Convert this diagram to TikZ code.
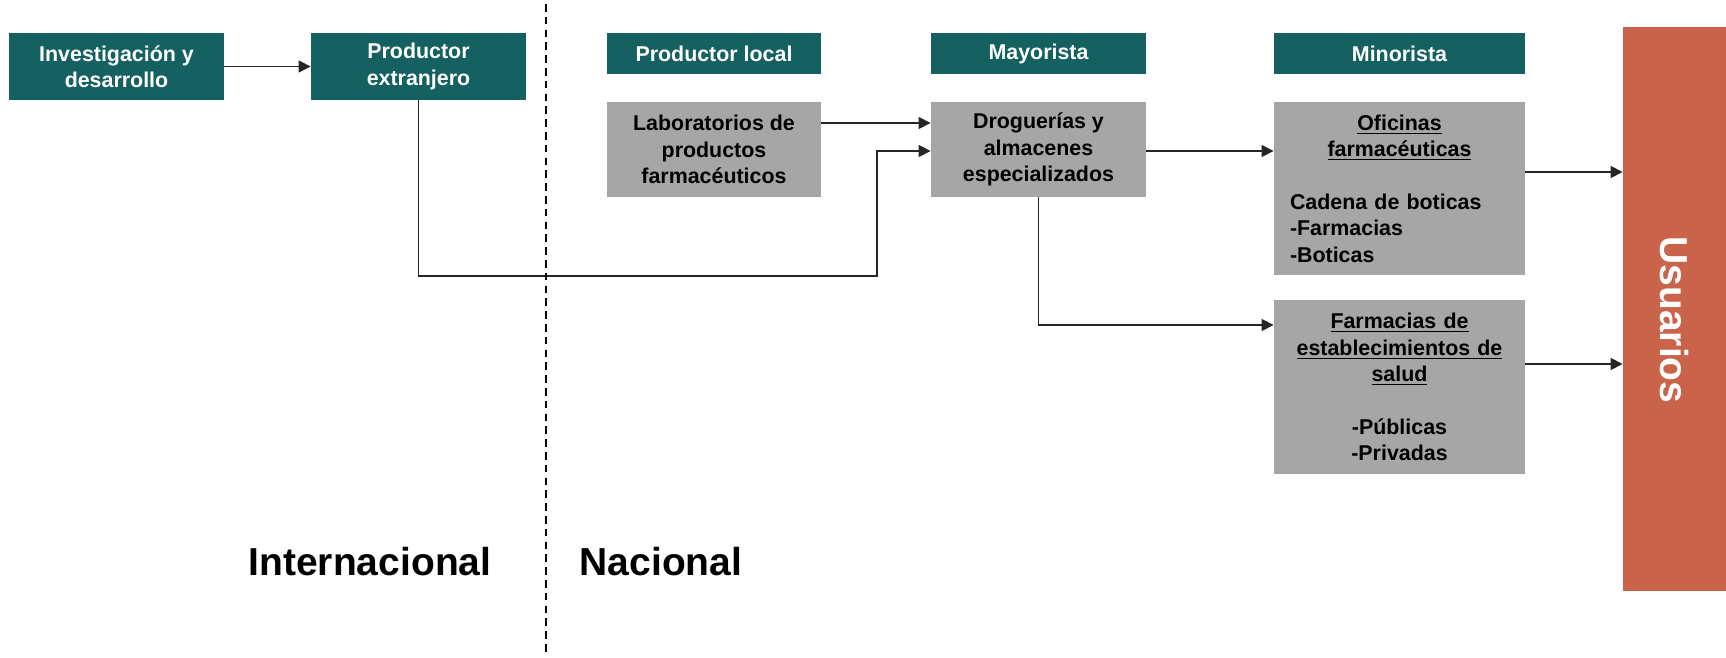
\documentclass[tikz,border=0pt]{standalone}
\usepackage{fontspec}
\setmainfont{Liberation Sans}
\usetikzlibrary{arrows.meta}
\definecolor{verde}{RGB}{21,96,96}
\definecolor{gris}{RGB}{166,166,166}
\definecolor{naranja}{RGB}{201,99,74}
\tikzset{
  cabecera/.style={fill=verde, text=white, inner sep=0pt, align=center,
    font=\bfseries\fontsize{10.7}{13.2}\selectfont},
  caja/.style={fill=gris, text=black, inner sep=0pt, align=center,
    font=\bfseries\fontsize{10.7}{13.2}\selectfont},
  usuario/.style={fill=naranja, text=white, inner sep=0pt,
    font=\bfseries\fontsize{19.5}{23}\selectfont},
  region/.style={text=black, inner sep=0pt, font=\bfseries\fontsize{19.5}{23}\selectfont},
  flecha/.style={-{Triangle[length=6pt,width=6pt]}, black!85, line width=0.65pt},
  divisoria/.style={black, line width=1pt, dash pattern=on 3.8pt off 2.6pt}
}

\begin{document}
\begin{tikzpicture}[x=0.5pt, y=-0.5pt]
        \useasboundingbox (0,0) rectangle (1726,658);
        % columna internacional
        \node[cabecera, minimum width=107.5pt, minimum height=33.5pt] (inv) at (116.5,66.5) {Investigación y\\desarrollo};
        \node[cabecera, minimum width=107.5pt, minimum height=33.5pt] (prodext) at (418.5,66.5) {Productor\\extranjero};
        % cabeceras nacionales
        \node[cabecera, minimum width=107pt, minimum height=20.5pt] (local) at (714,53.5) {Productor local};
        \node[cabecera, minimum width=107.5pt, minimum height=20.5pt] (mayor) at (1038.5,53.5) {Mayorista};
        \node[cabecera, minimum width=125.5pt, minimum height=20.5pt] (minor) at (1399.5,53.5) {Minorista};
        % cajas grises
        \node[caja, minimum width=107pt, minimum height=47.5pt] (lab) at (714,149.5) {Laboratorios de\\productos\\farmacéuticos};
        \node[caja, minimum width=107.5pt, minimum height=47.5pt] (drog) at (1038.5,149.5) {Droguerías y\\almacenes\\especializados};
        \node[caja, minimum width=125.5pt, minimum height=86.5pt, text width=109.5pt, align=left] (ofic) at (1399.5,188.5)
          {\makebox[109.5pt]{\underline{Oficinas}}\\\makebox[109.5pt]{\underline{farmacéuticas}}\\[13.2pt]Cadena de boticas\\-Farmacias\\-Boticas};
        \node[caja, minimum width=125.5pt, minimum height=87pt, text width=125.5pt] (farm) at (1399.5,387)
          {\underline{Farmacias de}\\\underline{establecimientos de}\\\underline{salud}\\[13.2pt]-Públicas\\-Privadas};
        \node[usuario, minimum width=51.5pt, minimum height=282pt] (usu) at (1674.5,309) {\rotatebox{-90}{\hspace{11pt}Usuarios}};
        % flechas
        \coordinate (codo) at (877,276);
        \draw[flecha] (inv) -- (prodext);
        \draw[flecha] (lab.east |- 0,123) -- (drog.west |- 0,123);
        \draw[flecha] (prodext.south) |- (codo) |- (drog.west |- 0,151);
        \draw[flecha] (drog.east |- 0,151) -- (ofic.west |- 0,151);
        \draw[flecha] (drog.south) |- (farm.west |- 0,325);
        \draw[flecha] (ofic.east |- 0,172) -- (usu.west |- 0,172);
        \draw[flecha] (farm.east |- 0,364) -- (usu.west |- 0,364);
        % division
        \coordinate (arriba) at (546,4);
        \coordinate (abajo) at (546,656);
        \draw[divisoria] (arriba) -- (abajo);
        \node[region] (inter) at (370,562) {Internacional};
        \node[region] (nac) at (661,562) {Nacional};
\end{tikzpicture}
\end{document}
